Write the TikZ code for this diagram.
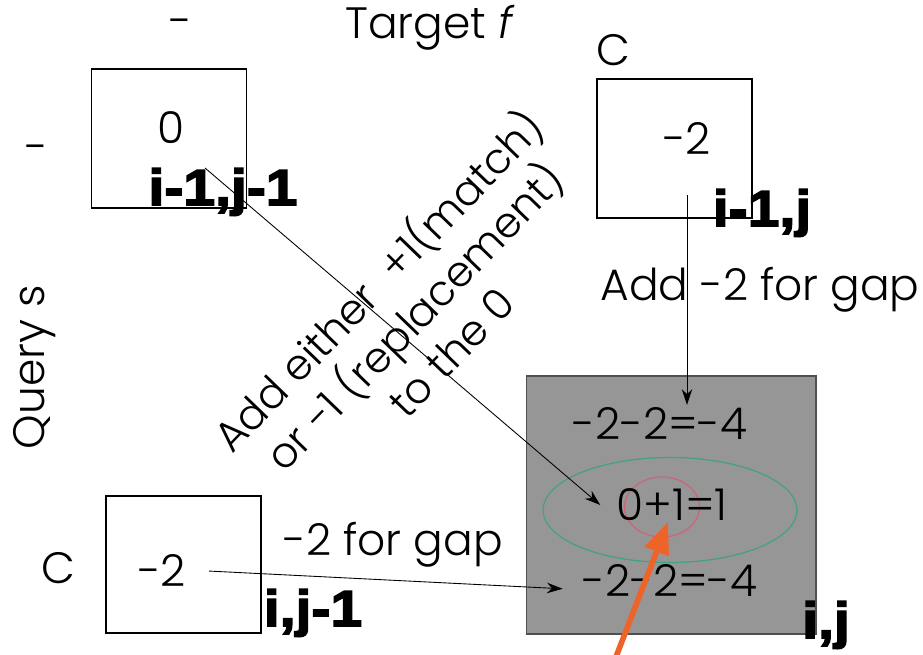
\documentclass[tikz,border=0pt]{standalone}
\usepackage{fontspec}
\setmainfont{Poppins}[UprightFont=* Light, ItalicFont=* Light Italic]
\newfontfamily\heavyfont{Liberation Sans Bold}[FakeBold=3, FakeStretch=1.12]
\usetikzlibrary{shapes.geometric,arrows.meta}
\definecolor{celda}{RGB}{150,150,150}
\definecolor{borde}{RGB}{80,80,80}
\definecolor{verde}{RGB}{70,160,130}
\definecolor{rosa}{RGB}{205,100,120}
\definecolor{naranja}{RGB}{238,100,40}
\tikzset{
  txt/.style={font=\fontsize{25}{30}\selectfont, inner sep=1pt},
  idx/.style={font=\heavyfont\fontsize{29}{30}\selectfont, inner sep=0pt},
  cell/.style={draw, line width=0.6pt, minimum width=3.1cm, minimum height=2.78cm, inner sep=0pt},
  arr/.style={-{Stealth[length=9pt,width=6pt]}, line width=0.5pt},
}
\begin{document}
\begin{tikzpicture}[x=0.02cm, y=-0.02cm]
	\useasboundingbox (0,0) rectangle (923,655);
	% Encabezados
	\node[txt] (tgt) at (430,28) {Target \textit{f}};
	\node[txt] (gapT) at (181,28) {-};
	\node[txt] (gapQ) at (37,154) {-};
	\node[txt] (chT) at (613,50) {C};
	\node[txt] (chQ) at (58,568) {C};
	\node[txt, rotate=90] (qry) at (35,367) {Query s};
	% Celdas vecinas
	\node[cell] (cA) at (169,138.5) {};
	\node[cell] (cB) at (674.5,148.5) {};
	\node[cell, minimum height=2.74cm] (cD) at (183.5,564.5) {};
	\node[txt] (vA) at (171,128) {0};
	\node[txt] (vB) at (687,138) {-2};
	\node[txt] (vD) at (162,570) {-2};
	% Celda (i,j)
	\node[cell, fill=celda, draw=borde, minimum width=5.8cm, minimum height=5.16cm] (cC) at (671,505) {};
	\node[draw=verde, line width=0.7pt, ellipse, minimum width=5.08cm, minimum height=2.1cm] (ovl) at (670,510) {};
	\node[draw=rosa, line width=0.7pt, ellipse, minimum width=1.5cm, minimum height=1.2cm] (rc) at (662,507) {};
	\node[txt] (up) at (660,423) {-2-2=-4};
	\node[txt] (dg) at (672,505) {0+1=1};
	\node[txt] (lf) at (670,580) {-2-2=-4};
	% Indices
	\node[idx] (iA) at (223,192) {i-1,j-1};
	\node[idx] (iB) at (762,213) {i-1,j};
	\node[idx] (iD) at (313,613) {i,j-1};
	\node[idx] (iC) at (826,625) {i,j};
	% Flechas
	\coordinate (fromA) at (205,168);
	\draw[arr] (fromA) -- ([xshift=-8]dg.west);
	\draw[arr, shorten <=22] (vB.south) -- (vB.south |- up.north);
	\draw[arr, shorten <=12] (vD.east) -- ([xshift=-10, yshift=-5]lf.west);
	\node[txt] (lblB) at (760,290) {Add -2 for gap};
	\node[txt] (lblD) at (393,545) {-2 for gap};
	\node[txt, font=\fontsize{24}{29}\selectfont, rotate=46, align=center] (lblA) at (412,314) {Add either \ +1(match)\\ or -1 (replacement)\\ to the 0};
	% Flecha naranja
	\coordinate (tail) at (614,662);
	\coordinate (tip) at (668,522);
	\draw[naranja, line width=3.2pt, -{Triangle[length=18pt,width=14pt]}] (tail) -- (tip);
\end{tikzpicture}
\end{document}
